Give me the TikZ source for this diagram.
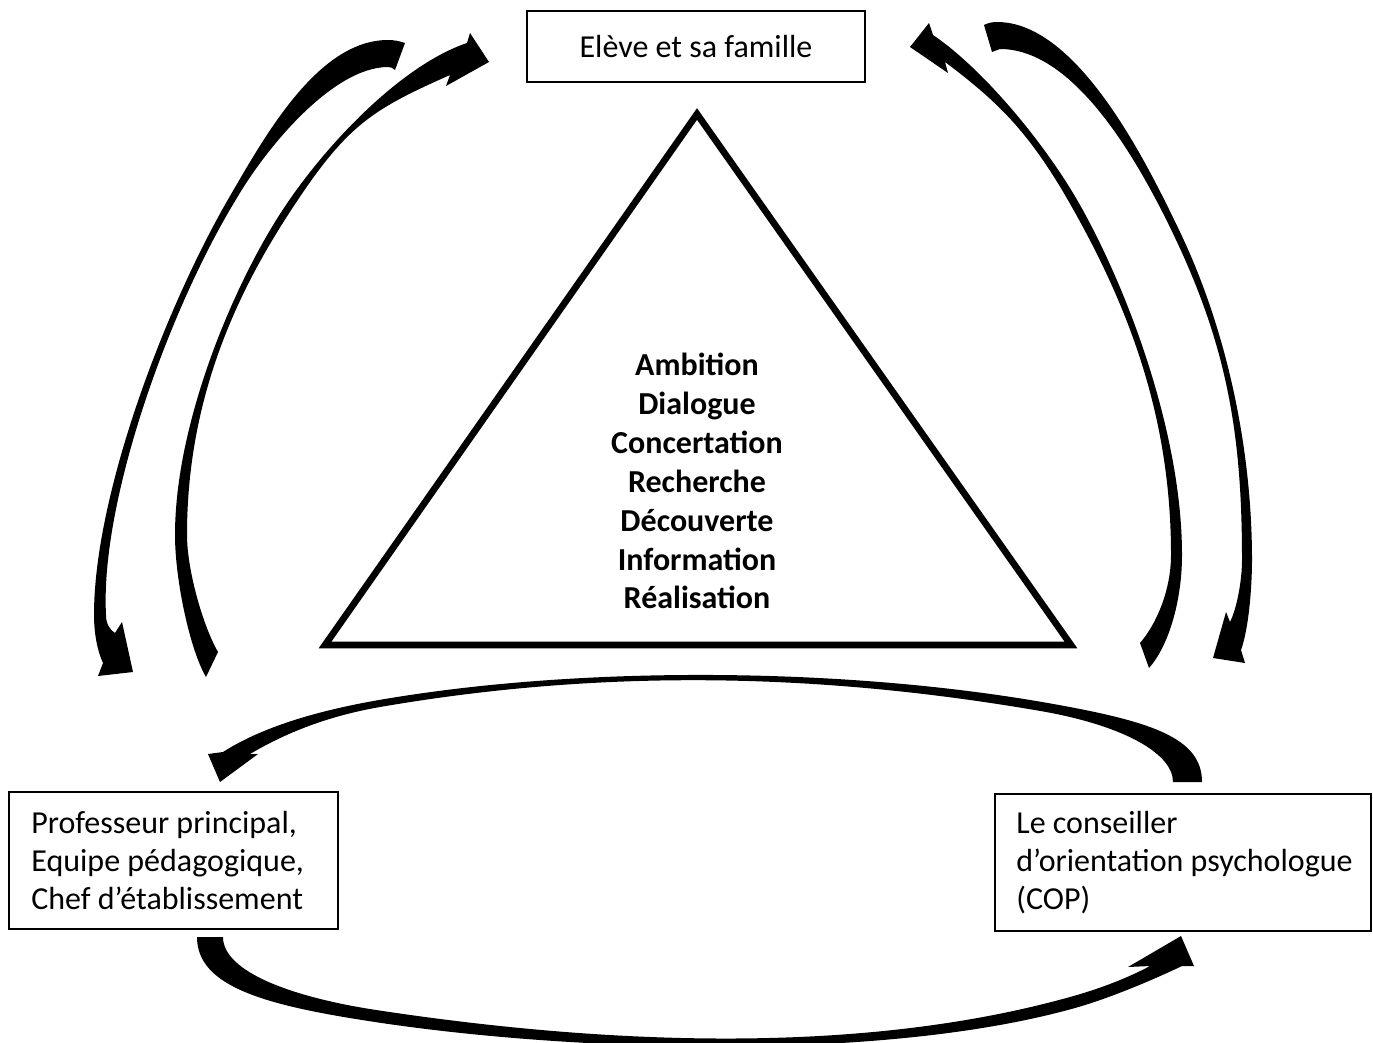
\documentclass[tikz,border=0pt]{standalone}
\usepackage{fontspec}
\setmainfont{Carlito}
\begin{document}
\begin{tikzpicture}[x=0.375pt,y=-0.375pt,
  box/.style={draw,line width=0.8pt,inner sep=0pt},
  boxtext/.style={anchor=west,align=left,inner sep=0pt,font=\fontsize{12}{14.1}\selectfont},
  band/.style={fill=black}]
\useasboundingbox (0,0) rectangle (1373,1042);

% boxes
\node[box,minimum width=126.75pt,minimum height=26.6pt,font=\fontsize{12}{14.6}\selectfont] (eleve) at (696,46.5) {Elève et sa famille};
\node[box,minimum width=123.4pt,minimum height=51.4pt] (prof) at (173.5,860.5) {};
\node[boxtext] (proftext) at ([xshift=8.6pt]prof.west) {Professeur principal,\\Equipe pédagogique,\\Chef d’établissement};
\node[box,minimum width=141pt,minimum height=51.4pt] (cop) at (1183,862.5) {};
\node[boxtext] (coptext) at ([xshift=8.2pt]cop.west) {Le conseiller\\d’orientation psychologue\\(COP)};

% triangle
\draw[line width=2.5pt,miter limit=10] (697,114) -- (1071,645) -- (325,645) -- cycle;
\node[align=center,inner sep=0pt,font=\bfseries\fontsize{12}{14.6}\selectfont] (values) at (697,481)
  {Ambition\\Dialogue\\Concertation\\Recherche\\Découverte\\Information\\Réalisation};

% arrow A (left outer): from near the top box down to the left box
\fill[band] (405,43) .. controls (399,41) and (394,40) .. (388,40)
  .. controls (318,40) and (265,136) .. (230,196)
  .. controls (164.6,308.3) and (94,495) .. (94,615)
  .. controls (94,632) and (97,650) .. (103,663)
  -- (98,676) -- (133,672) -- (122,622) -- (115,633)
  .. controls (110,630) and (106,624) .. (106,615)
  .. controls (100,500) and (170,307.5) .. (236,199.5)
  .. controls (266,147.7) and (333,67) .. (388,67)
  .. controls (391,67) and (393,68) .. (395,70) -- cycle;

% arrow B (left inner): from the left box up to the top box
\fill[band] (206,677) .. controls (190,650) and (175,580) .. (175,535)
  .. controls (175,425) and (231.4,289.6) .. (280,214)
  .. controls (323,147) and (400.5,65.4) .. (467,43)
  -- (470,33) -- (489,62) -- (446,86) -- (450,75)
  .. controls (369,111) and (345.4,125.6) .. (286,218)
  .. controls (227.7,308.7) and (187,411) .. (187,535)
  .. controls (187,570) and (203,626) .. (218,652) -- cycle;

% arrow C (right inner): from the right box up to the top box
\fill[band] (1149,668) .. controls (1169,645.5) and (1182,600) .. (1182,555)
  .. controls (1182,435) and (1129,292) .. (1080,205)
  .. controls (1045.7,144.1) and (982.8,68.6) .. (933,35)
  -- (929,23) -- (910,47) -- (948,73) -- (945,62)
  .. controls (1001,104) and (1031.4,135) .. (1073,209)
  .. controls (1130.8,311.7) and (1171,420) .. (1171,555)
  .. controls (1171,590) and (1156.5,624) .. (1140,643) -- cycle;

% arrow D (right outer): from near the top box down to the right box
\fill[band] (984,25) .. controls (988,23) and (992,22) .. (997,22)
  .. controls (1077,22) and (1145.6,160) .. (1180,232)
  .. controls (1227.3,331) and (1252,450) .. (1252,560)
  .. controls (1252,585) and (1249,628) .. (1241,650)
  -- (1245,663) -- (1213,658) -- (1226,612) -- (1230,622)
  .. controls (1237,608) and (1242,580) .. (1242,560)
  .. controls (1242,435.5) and (1227.5,347.5) .. (1173.7,235)
  .. controls (1131,145.6) and (1069.7,49) .. (1000,49)
  -- (992,52) -- cycle;

% arrow E (upper bottom arc): from the right box to the left box
\fill[band] (1202,782) .. controls (1202,737) and (1150,720.7) .. (1042,702)
  .. controls (841,667.3) and (580,665.3) .. (379,700)
  .. controls (324.8,709.4) and (265,725) .. (223,752)
  -- (208,754) -- (220,782) -- (258,754) -- (250,754)
  .. controls (288,731.5) and (330.8,715.5) .. (380,707)
  .. controls (602.1,668.7) and (818.4,672.7) .. (1040.5,711)
  .. controls (1119.3,724.6) and (1173,752) .. (1173,782) -- cycle;

% arrow F (lower bottom arc): from the left box to the right box
\fill[band] (197,937) .. controls (197,987) and (266,1005.5) .. (375,1022)
  .. controls (573,1052) and (883,1062) .. (1075,1008)
  .. controls (1108.6,998.5) and (1150.5,981) .. (1182,966)
  -- (1194,966) -- (1181,936) -- (1128,967) -- (1150,966)
  .. controls (1128,977.8) and (1100.6,988.4) .. (1071.8,996.5)
  .. controls (857.4,1056.8) and (598.5,1043.7) .. (376.8,1010.1)
  .. controls (292.6,997.3) and (223,972) .. (223,937) -- cycle;
\end{tikzpicture}
\end{document}
